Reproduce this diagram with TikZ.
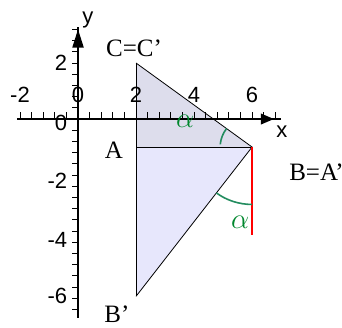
\documentclass[tikz,border=0pt]{standalone}
\usepackage{fontspec}
\setmainfont{Liberation Serif}
\setsansfont{Liberation Sans}
\usetikzlibrary{arrows.meta}
\definecolor{topfill}{RGB}{221,221,236}
\definecolor{lowfill}{RGB}{231,231,252}
\definecolor{alphagreen}{RGB}{0,135,45}
\definecolor{arcgreen}{RGB}{35,140,95}

\begin{document}
\begin{tikzpicture}[x=14.5pt,y=14pt,>=Stealth]
\tikzstyle{lbl}=[font=\fontsize{12.5}{14}\selectfont,inner sep=0pt]
\tikzstyle{num}=[font=\sffamily\fontsize{11}{12}\selectfont,inner sep=0pt]
\tikzstyle{grn}=[text=alphagreen,font=\fontsize{14}{15}\selectfont,inner sep=0pt]
\useasboundingbox (-2.69,-7.43) rectangle (9.10,4.25);
\coordinate (C) at (2,2);
\coordinate (A) at (2,-1);
\coordinate (B) at (6,-1);
\coordinate (Bp) at (2,-6.33);
\coordinate (R) at (6,-4.14);
\fill[lowfill] (C) -- (B) -- (Bp) -- cycle;
\fill[topfill] (C) -- (A) -- (B) -- cycle;
% axes with ticks
\draw[semithick] (-2.1,0) -- (7,0);
\draw[semithick] (0,-7.1) -- (0,3.3);
\foreach \i in {-5,...,17} \draw (\i*0.4,0) -- (\i*0.4,0.25);
\foreach \i in {-17,...,8} \draw (0,\i*0.4) -- (-0.2,\i*0.4);
\fill (6.3,0.2) -- (6.75,0) -- (6.3,-0.2) -- cycle;
\fill (-0.2,2.55) -- (0,3.2) -- (0.2,2.55) -- cycle;
\foreach \v in {-2,0,2,4,6} \node[num] (x\v) at (\v,0.86) {\v};
\foreach \v/\y in {2/2.0,0/-0.15,-2/-2.2,-4/-4.3,-6/-6.3} \node[num,anchor=east] (y\v) at (-0.36,\y) {\v};
\node[num] (lx) at (7.03,-0.46) {x};
\node[num] (ly) at (0.34,3.54) {y};
% triangles
\draw (C) -- (Bp);
\draw (A) -- (B);
\draw[thin] (C) -- (B) -- (Bp);
\draw[red,line width=1pt] (B) -- (R);
\draw[arcgreen,thick] (B) ++(175:1.1) arc[start angle=175,end angle=143.13,radius=1.1];
\draw[arcgreen,thick] (B) ++(233.13:2.05) arc[start angle=233.13,end angle=270,radius=2.05];
\node[grn] (a1) at (3.69,-0.07) {$\alpha$};
\node[grn] (a2) at (5.59,-3.68) {$\alpha$};
\node[lbl] (lC) at (1.93,2.54) {C=C’};
\node[lbl] (lA) at (1.24,-1.11) {A};
\node[lbl] (lB) at (8.22,-1.89) {B=A’};
\node[lbl] (lBp) at (1.34,-6.96) {B’};
\end{tikzpicture}
\end{document}
